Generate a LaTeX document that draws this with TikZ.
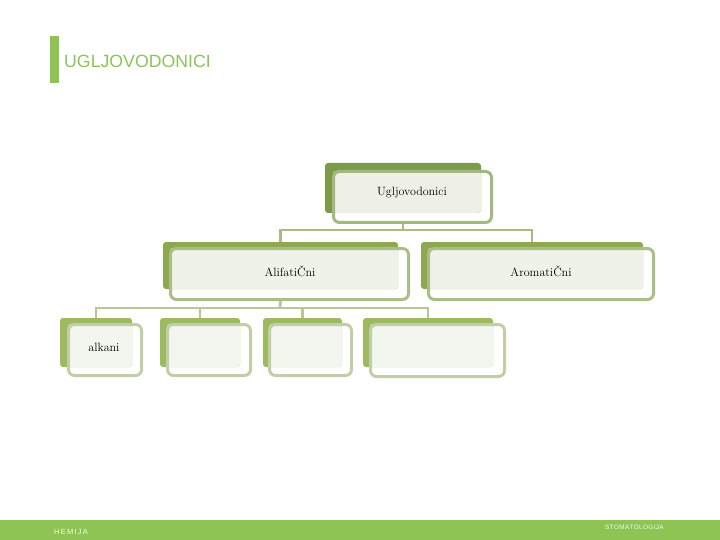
\documentclass[tikz,border=0pt]{standalone}
\usepackage{fontspec}
\newfontfamily\arialfont{Liberation Sans}
\definecolor{barGreen}{HTML}{8DC454}
\definecolor{titleGreen}{HTML}{8CC35A}
\definecolor{backA}{HTML}{7D9A49}
\definecolor{lineA}{HTML}{A3B87E}
\definecolor{fillA}{HTML}{EEF0E7}
\definecolor{backB}{HTML}{8CA951}
\definecolor{lineB}{HTML}{ABBE88}
\definecolor{fillB}{HTML}{EFF2E9}
\definecolor{backC}{HTML}{9CBB5E}
\definecolor{lineC}{HTML}{C2CEA8}
\definecolor{fillC}{HTML}{F3F6EE}
\definecolor{connA}{HTML}{A8BC84}
\definecolor{connB}{HTML}{B7C798}
\tikzset{
  backbox/.style={inner sep=0pt, rounded corners=3pt, fill=#1},
  frontbox/.style={inner sep=0pt, rounded corners=6pt, draw=#1, line width=3pt},
  lightfill/.style={fill=#1, rounded corners=3pt},
  nodetext/.style={inner sep=0pt, font=\fontsize{12}{14}\selectfont, text=black},
  conn/.style={draw=#1, line width=2.8pt},
}
\begin{document}
\begin{tikzpicture}[x=1pt,y=-1pt]
\useasboundingbox (0,0) rectangle (720,540);
% title
\fill[barGreen] (50,36) rectangle (59,83);
\node[anchor=base west, inner sep=0pt, text=titleGreen, font=\arialfont\fontsize{17.7}{20}\selectfont] (title) at (64,68) {UGLJOVODONICI};
% footer
\fill[barGreen] (0,520) rectangle (720,540);
\node[anchor=base west, inner sep=0pt, text=white!92!barGreen, font=\arialfont\fontsize{7.5}{9}\selectfont] (hem) at (54,534) {H\,E\,M\,I\,J\,A};
\node[anchor=base west, inner sep=0pt, text=white!92!barGreen, font=\arialfont\fontsize{6.3}{8}\selectfont] (stom) at (605,529.5) {S\kern.4pt T\kern.4pt O\kern.4pt M\kern.4pt A\kern.4pt T\kern.4pt O\kern.4pt L\kern.4pt O\kern.4pt G\kern.4pt I\kern.4pt J\kern.4pt A};

% level 1
\node[backbox=backA, minimum width=156pt, minimum height=50pt] (uB) at (403,188) {};
\fill[lightfill=fillA] (333,171) rectangle (481,213);
\node[frontbox=lineA, minimum width=158pt, minimum height=51pt] (uF) at (412.5,197) {};
\node[nodetext] (uT) at (412,193) {Ugljovodonici};

% level 2
\node[backbox=backB, minimum width=235pt, minimum height=47pt] (aB) at (280.5,265.5) {};
\fill[lightfill=fillB] (170,248) rectangle (398,289);
\node[frontbox=lineB, minimum width=238pt, minimum height=51pt] (aF) at (289.5,274) {};
\node[nodetext] (aT) at (290,271) {AlifatiČni};

\node[backbox=backB, minimum width=222pt, minimum height=47pt] (rB) at (532,265.5) {};
\fill[lightfill=fillB] (428,248) rectangle (643,289);
\node[frontbox=lineB, minimum width=225pt, minimum height=51pt] (rF) at (541,274) {};
\node[nodetext] (rT) at (541,271) {AromatiČni};

% level 3
\node[backbox=backC, minimum width=72pt, minimum height=49pt] (k1B) at (96,342.5) {};
\fill[lightfill=fillC] (68,324) rectangle (132,367);
\node[frontbox=lineC, minimum width=73pt, minimum height=51pt] (k1F) at (105,350) {};
\node[nodetext] (k1T) at (104,347) {alkani};

\node[backbox=backC, minimum width=80pt, minimum height=49pt] (k2B) at (200,342.5) {};
\fill[lightfill=fillC] (167,324) rectangle (240,367);
\node[frontbox=lineC, minimum width=83pt, minimum height=51pt] (k2F) at (209,350) {};

\node[backbox=backC, minimum width=79pt, minimum height=49pt] (k3B) at (302.5,342.5) {};
\fill[lightfill=fillC] (269,324) rectangle (342,367);
\node[frontbox=lineC, minimum width=82pt, minimum height=51pt] (k3F) at (310.5,350) {};

\node[backbox=backC, minimum width=130pt, minimum height=49pt] (k4B) at (428,342.5) {};
\fill[lightfill=fillC] (370,324) rectangle (493,367);
\node[frontbox=lineC, minimum width=134pt, minimum height=52pt] (k4F) at (437.5,350.5) {};

% connectors level 1 -> 2
\coordinate (j1) at (403,230);
\draw[conn=connA] (uB.center |- uF.south) -- (j1);
\draw[conn=connA] (aB.north) -- (aB.north |- j1) -- (rB.north |- j1) -- (rB.north);
% connectors level 2 -> 3
\coordinate (j2) at (280,308);
\draw[conn=connB] (aB.center |- aF.south) -- (j2);
\draw[conn=connB] (k1B.north) -- (k1B.north |- j2) -- (k4B.north |- j2) -- (k4B.north);
\draw[conn=connB] (k2B.north) -- (k2B.north |- j2);
\draw[conn=connB] (k3B.north) -- (k3B.north |- j2);
\end{tikzpicture}
\end{document}
